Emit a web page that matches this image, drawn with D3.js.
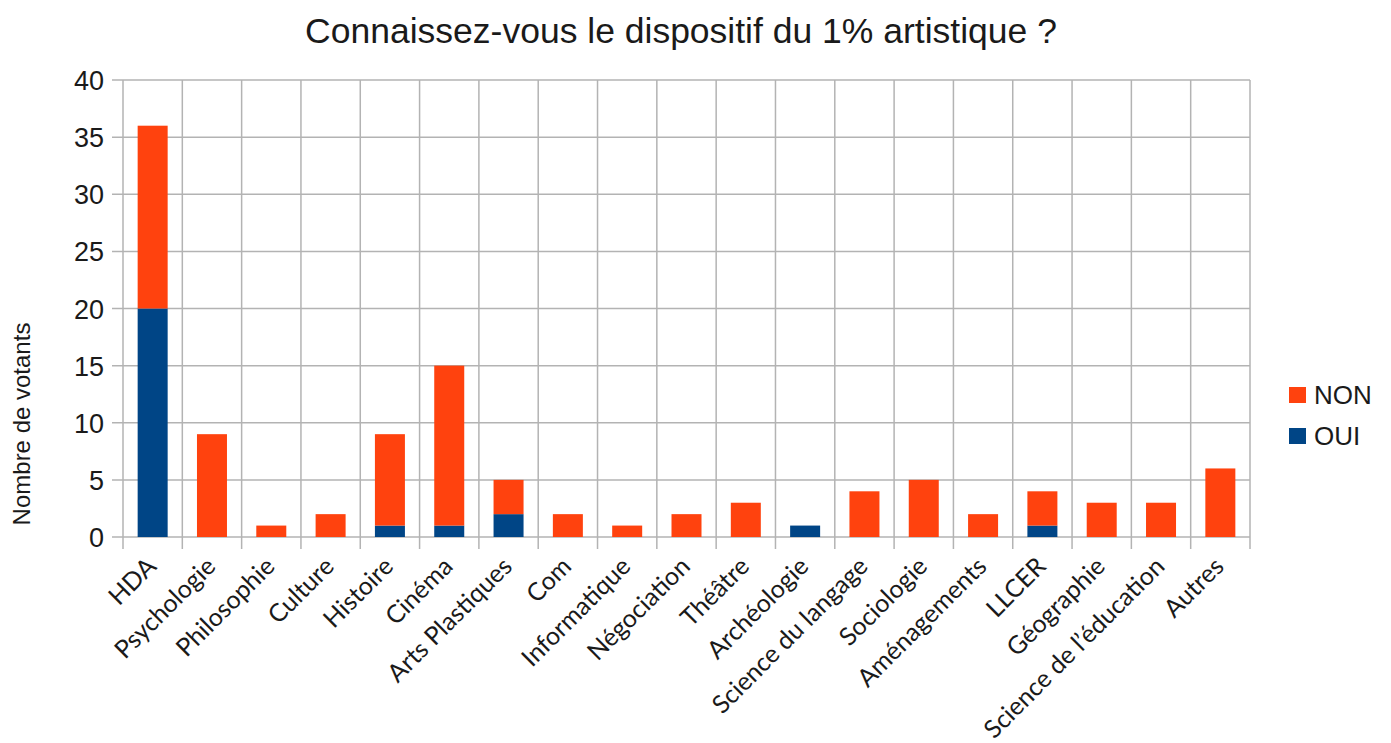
<!DOCTYPE html>
<html>
<head>
<meta charset="utf-8">
<script src="https://cdn.jsdelivr.net/npm/d3@7"></script>
<style>
  body { margin: 0; background: #fff; }
  text { fill: #1a1a1a; }
</style>
</head>
<body>
<script>
// Connaissez-vous le dispositif du 1% artistique ?
var categories = ["HDA", "Psychologie", "Philosophie", "Culture", "Histoire", "Cinéma",
  "Arts Plastiques", "Com", "Informatique", "Négociation", "Théâtre", "Archéologie",
  "Science du langage", "Sociologie", "Aménagements", "LLCER", "Géographie",
  "Science de l’éducation", "Autres"];
var oui = [20, 0, 0, 0, 1, 1, 2, 0, 0, 0, 0, 1, 0, 0, 0, 1, 0, 0, 0];
var non = [16, 9, 1, 2, 8, 14, 3, 2, 1, 2, 3, 0, 4, 5, 2, 3, 3, 3, 6];
var yTicks = [0, 5, 10, 15, 20, 25, 30, 35, 40];
var seriesNames = ["OUI", "NON"];

var width = 1391, height = 743;
var plotL = 123, plotR = 1250, plotT = 80, plotB = 537;
var colors = { OUI: "#004586", NON: "#ff420e" };

var rows = categories.map(function (c, i) { return { cat: c, OUI: oui[i], NON: non[i] }; });
var stacked = d3.stack().keys(seriesNames)(rows);

var x = d3.scaleBand().domain(categories).range([plotL, plotR]).paddingInner(0).paddingOuter(0);
var y = d3.scaleLinear().domain([0, 40]).range([plotB, plotT]);

var svg = d3.select("body").append("svg")
    .attr("width", width)
    .attr("height", height)
    .style("font-family", "'Liberation Sans', Arial, sans-serif");

// gridlines
svg.append("g").selectAll("line")
  .data(yTicks)
  .enter().append("line")
    .attr("x1", plotL - 11).attr("x2", plotR)
    .attr("y1", function (d) { return y(d); }).attr("y2", function (d) { return y(d); })
    .attr("stroke", "#b3b3b3").attr("stroke-width", 1.5);

var bounds = categories.map(function (c) { return x(c); }).concat([plotR]);
svg.append("g").selectAll("line")
  .data(bounds)
  .enter().append("line")
    .attr("x1", function (d) { return d; }).attr("x2", function (d) { return d; })
    .attr("y1", plotT).attr("y2", plotB + 12)
    .attr("stroke", "#b3b3b3").attr("stroke-width", 1.5);

// bars
var barW = 30;
svg.append("g").selectAll("g")
  .data(stacked)
  .enter().append("g")
    .attr("fill", function (d) { return colors[d.key]; })
  .selectAll("rect")
  .data(function (d) { return d; })
  .enter().append("rect")
    .attr("x", function (d) { return x(d.data.cat) + x.bandwidth() / 2 - barW / 2; })
    .attr("width", barW)
    .attr("y", function (d) { return y(d[1]); })
    .attr("height", function (d) { return y(d[0]) - y(d[1]); });

// y tick labels
svg.append("g").selectAll("text")
  .data(yTicks)
  .enter().append("text")
    .attr("x", 104)
    .attr("y", function (d) { return y(d) + 10; })
    .attr("text-anchor", "end")
    .style("font-size", "27px")
    .text(function (d) { return d; });

// x labels
svg.append("g").selectAll("text")
  .data(categories)
  .enter().append("text")
    .attr("text-anchor", "end")
    .attr("transform", function (d) {
      return "translate(" + (x(d) + x.bandwidth() / 2 + 5) + "," + 568 + ") rotate(-45)";
    })
    .style("font-family", "Lato, 'Open Sans', sans-serif")
    .style("font-size", "25px")
    .text(function (d) { return d; });

// axis title
svg.append("text")
  .attr("transform", "translate(30,424) rotate(-90)")
  .attr("text-anchor", "middle")
  .style("font-size", "24px")
  .text("Nombre de votants");

// title
svg.append("text")
  .attr("x", 681).attr("y", 43)
  .attr("text-anchor", "middle")
  .style("font-size", "35.5px")
  .text("Connaissez-vous le dispositif du 1% artistique ?");

// legend
var legend = svg.append("g").selectAll("g")
  .data(["NON", "OUI"])
  .enter().append("g")
    .attr("transform", function (d, i) { return "translate(1289," + (387 + i * 41) + ")"; });
legend.append("rect").attr("width", 17).attr("height", 16)
  .attr("fill", function (d) { return colors[d]; });
legend.append("text").attr("x", 25).attr("y", 17)
  .style("font-size", "26px")
  .text(function (d) { return d; });
</script>
</body>
</html>
